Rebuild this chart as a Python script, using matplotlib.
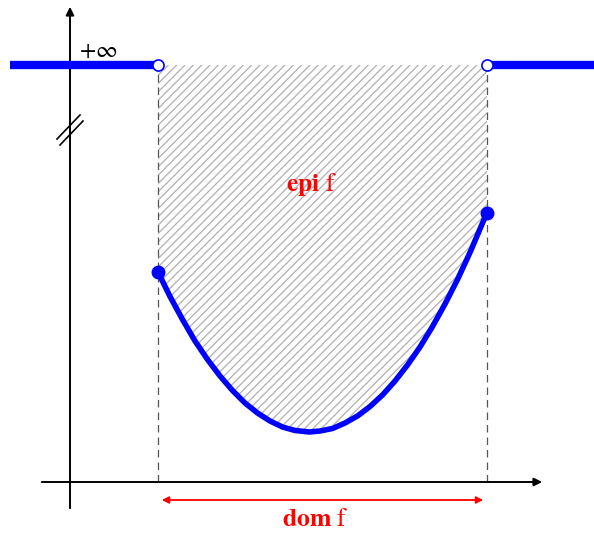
import numpy as np
import matplotlib.pyplot as plt

# curve of f on its domain
curve_x = [1.76, 2.0, 2.25, 2.5, 2.75, 3.0, 3.25, 3.5, 3.75, 4.0, 4.25, 4.5, 4.79,
           5.0, 5.25, 5.5, 5.75, 6.0, 6.25, 6.5, 6.75, 7.0, 7.25, 7.5, 7.75, 8.0, 8.34]
curve_y = [4.20, 3.71, 3.25, 2.82, 2.45, 2.12, 1.83, 1.58, 1.38, 1.22, 1.10, 1.03, 1.00,
           1.02, 1.07, 1.18, 1.32, 1.51, 1.74, 2.02, 2.34, 2.70, 3.11, 3.56, 4.05, 4.59, 5.39]

inf_level = 8.34
dom = [1.76, 8.34]
left_inf_x = [-1.2, 1.76]
right_inf_x = [8.34, 10.5]

plt.rcParams['mathtext.fontset'] = 'stix'
plt.rcParams['hatch.color'] = '#b0b0b0'
plt.rcParams['hatch.linewidth'] = 0.9

fig = plt.figure(figsize=(5.94, 5.33), dpi=100)
ax = fig.add_axes([0, 0, 1, 1])
ax.set_xlim(-1.4, 10.48)
ax.set_ylim(-1.02, 9.64)
ax.axis('off')

# epigraph
ax.fill_between(curve_x, curve_y, inf_level, facecolor='none', edgecolor='#b0b0b0',
                hatch='////', linewidth=0, zorder=1)

# dashed borders of the domain
for xd in dom:
    ax.plot([xd, xd], [0, inf_level], color='#555555', lw=0.9, ls=(0, (6, 4)), zorder=2)

# axes with arrows
ax.annotate('', xy=(9.5, 0), xytext=(-0.62, 0),
            arrowprops=dict(arrowstyle='-|>', color='black', lw=1.4, mutation_scale=12), zorder=3)
ax.annotate('', xy=(0, 9.56), xytext=(0, -0.58),
            arrowprops=dict(arrowstyle='-|>', color='black', lw=1.4, mutation_scale=12), zorder=3)

# axis break marks
ax.plot([-0.26, 0.2], [6.86, 7.34], color='black', lw=1.2, zorder=3)
ax.plot([-0.2, 0.26], [6.74, 7.22], color='black', lw=1.2, zorder=3)

# f = +inf outside the domain
ax.plot(left_inf_x, [inf_level, inf_level], color='blue', lw=6, solid_capstyle='butt', zorder=4)
ax.plot(right_inf_x, [inf_level, inf_level], color='blue', lw=6, solid_capstyle='butt', zorder=4)
ax.plot(dom, [inf_level, inf_level], 'o', ms=8, mfc='white', mec='blue', mew=1.2, zorder=5)

# f on the domain
ax.plot(curve_x, curve_y, color='blue', lw=4, solid_capstyle='round', zorder=4)
ax.plot([curve_x[0], curve_x[-1]], [curve_y[0], curve_y[-1]], 'o', color='blue', ms=9, zorder=5)

ax.text(0.18, 8.4, r'$+\infty$', fontsize=17, ha='left', va='bottom', zorder=6)

# dom f arrow
ax.annotate('', xy=(8.32, -0.36), xytext=(1.78, -0.36),
            arrowprops=dict(arrowstyle='<|-|>', color='red', lw=1.3, mutation_scale=10))
ax.text(4.9, -0.74, r'$\mathbf{dom}\ \mathrm{f}$', color='red', fontsize=18.5, ha='center', va='center')
ax.text(4.82, 5.94, r'$\mathbf{epi}\ \mathrm{f}$', color='red', fontsize=18.5, ha='center', va='center')

plt.savefig('out.png', dpi=100)
